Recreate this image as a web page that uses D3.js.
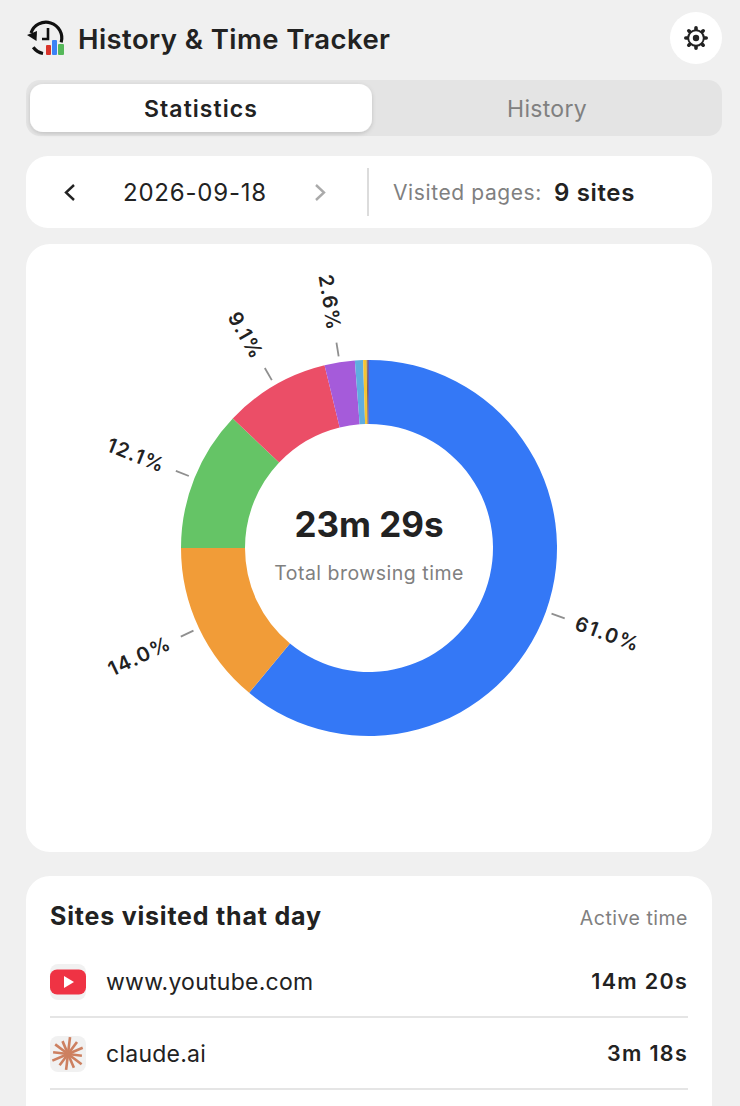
<!DOCTYPE html>
<html><head><meta charset="utf-8">
<script src="https://cdn.jsdelivr.net/npm/d3@7/dist/d3.min.js"></script>
<style>html,body{margin:0;padding:0;background:#f0f0f0;overflow:hidden}svg{display:block}text{font-family:Inter,"Noto Sans",sans-serif}</style>
</head><body><div id="c"></div>
<script>
const sliceValues=[61.0,14.0,12.1,9.1,2.6,0.7,0.3,0.1,0.1];
const sliceColors=["#3478f6","#f19c38","#65c466","#eb4e67","#a55bda","#5fade0","#f7c433","#7a6a50","#6b5bb0"];
const sliceLabels=["61.0%","14.0%","12.1%","9.1%","2.6%","","","",""];
const sites=["www.youtube.com","claude.ai"];
const siteTimes=["14m 20s","3m 18s"];
const ink="#222222", grey="#808080";
const svg=d3.select("#c").append("svg").attr("width",740).attr("height",1106);
svg.append("rect").attr("width",740).attr("height",1106).attr("fill","#f0f0f0");
const defs=svg.append("defs");
const f=defs.append("filter").attr("id","sh").attr("x","-5%").attr("y","-20%").attr("width","110%").attr("height","150%");
f.append("feDropShadow").attr("dx",0).attr("dy",1.5).attr("stdDeviation",2).attr("flood-color","#000").attr("flood-opacity",.16);
function rr(x,y,w,h,r,fill){return svg.append("rect").attr("x",x).attr("y",y).attr("width",w).attr("height",h).attr("rx",r).attr("fill",fill);}
function tx(x,y,s,size,weight,fill,anchor,ls){return svg.append("text").attr("x",x).attr("y",y).text(s).attr("font-size",size).attr("font-weight",weight).attr("fill",fill).attr("text-anchor",anchor||"start").attr("letter-spacing",ls||0);}

// header
const logo=svg.append("g").attr("transform","translate(46,38)");
logo.append("path").attr("d",d3.arc().innerRadius(14.2).outerRadius(17.4).startAngle(-1.25).endAngle(1.85)()).attr("fill","#111");
logo.append("path").attr("d",d3.arc().innerRadius(14.2).outerRadius(17.4).startAngle(-2.2).endAngle(-2.95)()).attr("fill","#111");
logo.append("path").attr("d","M-19,-3 L-9,-7 L-9.5,3 Z").attr("fill","#111");
logo.append("path").attr("d","M2,-10 V1 H-4").attr("fill","none").attr("stroke","#111").attr("stroke-width",2.6);
[["#d9342b",0,7,5,10],["#3c82f6",6,2,5,15],["#55b85a",12,6,6,11]].forEach(b=>logo.append("rect").attr("x",b[1]).attr("y",b[2]).attr("width",b[3]).attr("height",b[4]).attr("rx",1).attr("fill",b[0]));
tx(78,49,"History & Time Tracker",27.5,600,ink,"start",0.42);
svg.append("circle").attr("cx",696).attr("cy",38).attr("r",26).attr("fill","#fff");
const gear=svg.append("g").attr("transform","translate(696,38)");
let gp="";const teeth=8;for(let i=0;i<teeth;i++){const a=i/teeth*2*Math.PI;gp+=`M${Math.sin(a)*10.2},${-Math.cos(a)*10.2}L${Math.sin(a)*7},${-Math.cos(a)*7}`;}
gear.append("path").attr("d",gp).attr("stroke",ink).attr("stroke-width",3.6).attr("stroke-linecap","round");
gear.append("circle").attr("r",7.8).attr("fill","#fff").attr("stroke",ink).attr("stroke-width",1.9);
gear.append("circle").attr("r",3.2).attr("fill",ink);

// tabs
rr(26,80,696,56,14,"#e4e4e4");
rr(30,84,342,48,13,"#fff").attr("filter","url(#sh)");
tx(201,117,"Statistics",23,600,ink,"middle",1.05);
tx(547,117,"History",23,400,grey,"middle",0.3);

// date bar
rr(26,156,686,72,22,"#fff");
svg.append("path").attr("d","M74,185 L66,192.5 L74,200").attr("fill","none").attr("stroke",ink).attr("stroke-width",2.4);
tx(195,201,"2026-09-18",24,400,ink,"middle",0.8);
svg.append("path").attr("d","M316,185 L324,192.5 L316,200").attr("fill","none").attr("stroke","#aaa").attr("stroke-width",2.4);
svg.append("line").attr("x1",368).attr("x2",368).attr("y1",168).attr("y2",216).attr("stroke","#d4d4d4").attr("stroke-width",1.6);
tx(393,200,"Visited pages:",21,400,grey,"start",0.6);
tx(554,201,"9 sites",24,600,ink,"start",0.65);

// donut card
rr(26,244,686,608,24,"#fff");
const cx=369,cy=548,outer=188,inner=124;
const pie=d3.pie().sort(null).value(d=>d)(sliceValues);
const arc=d3.arc().innerRadius(inner).outerRadius(outer);
const g=svg.append("g").attr("transform",`translate(${cx},${cy})`);
g.selectAll("path").data(pie).join("path").attr("d",arc).attr("fill",(d,i)=>sliceColors[i]);
const pt=(a,r)=>[Math.sin(a)*r,-Math.cos(a)*r];
const labelled=pie.filter((d,i)=>sliceLabels[i]);
g.selectAll("line").data(labelled).join("line")
 .attr("x1",d=>pt((d.startAngle+d.endAngle)/2,194)[0]).attr("y1",d=>pt((d.startAngle+d.endAngle)/2,194)[1])
 .attr("x2",d=>pt((d.startAngle+d.endAngle)/2,208)[0]).attr("y2",d=>pt((d.startAngle+d.endAngle)/2,208)[1])
 .attr("stroke","#8f8f8f").attr("stroke-width",1.8);
g.selectAll("text").data(labelled).join("text").text(d=>sliceLabels[d.index])
 .attr("font-size",20).attr("font-weight",600).attr("fill",ink).attr("dy","0.36em").attr("letter-spacing",1.4)
 .attr("text-anchor",d=>(d.startAngle+d.endAngle)/2<Math.PI?"start":"end")
 .attr("transform",d=>{const a=(d.startAngle+d.endAngle)/2,p=pt(a,220),deg=a*180/Math.PI;
   return `translate(${p[0]},${p[1]}) rotate(${a<Math.PI?deg-90:deg-270})`;});
tx(369,537,"23m 29s",35,700,ink,"middle");
tx(369,580,"Total browsing time",19.5,400,grey,"middle",0.5);

// list card
rr(26,876,686,260,24,"#fff");
tx(50,925,"Sites visited that day",25,700,ink,"start",0.8);
tx(688,925,"Active time",19.5,400,grey,"end",0.5);
const rowY=d3.scalePoint().domain(sites).range([981,1053]);
sites.forEach((s,i)=>{
  const y=rowY(s);
  rr(50,y-17,36,36,8,"#f1f1f1");
  if(i===0){
    rr(50,y-11.5,36,25,7,"#ef3344");
    svg.append("path").attr("d",`M64,${y-5} L74,${y+1} L64,${y+7} Z`).attr("fill","#fff");
  } else {
    const st=svg.append("g").attr("transform",`translate(68,${y+1})`);
    d3.range(12).forEach(k=>{const a=k/12*2*Math.PI+0.12,r=[17,15,16,14][k%4];
      st.append("line").attr("x1",0).attr("y1",0).attr("x2",Math.sin(a)*r).attr("y2",-Math.cos(a)*r).attr("stroke","#cd8060").attr("stroke-width",2.6);});
  }
  tx(106,y+8.5,s,23,400,ink,"start",0.25);
  tx(688,y+8,siteTimes[i],21.5,600,ink,"end",1.3);
  svg.append("line").attr("x1",50).attr("x2",688).attr("y1",y+36).attr("y2",y+36).attr("stroke","#dcdcdc").attr("stroke-width",1.6);
});
</script></body></html>
